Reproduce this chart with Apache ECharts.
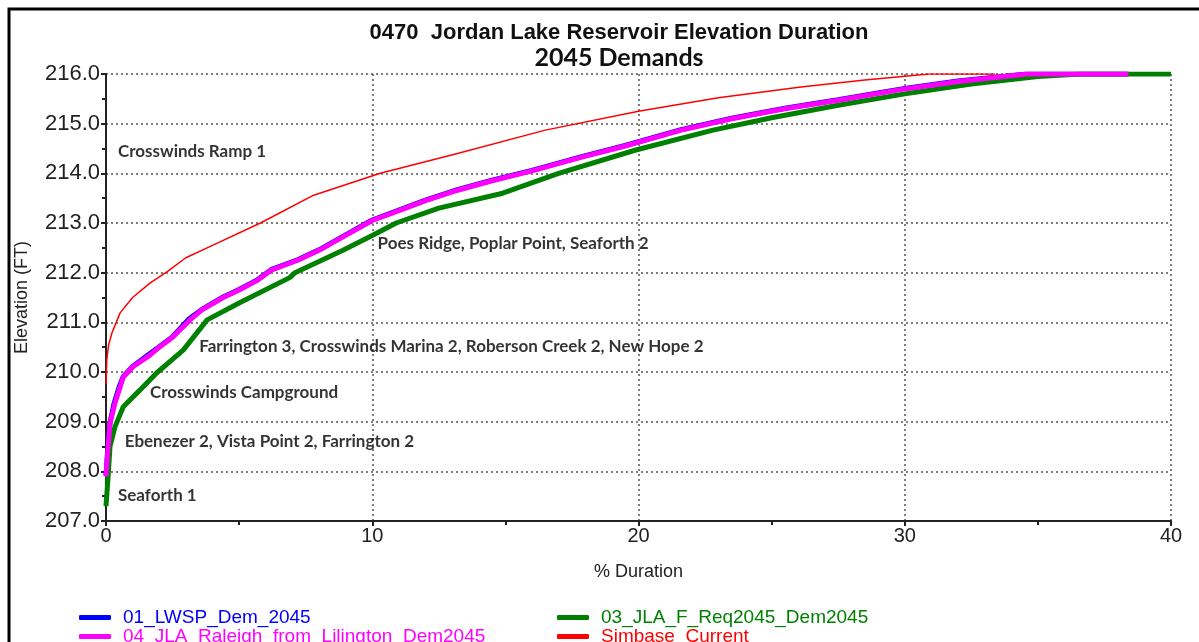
<!DOCTYPE html>
<html>
<head>
    <meta charset="utf-8" />
    <title>Jordan Lake Reservoir Elevation Duration</title>
    <script src="https://cdn.jsdelivr.net/npm/echarts@6/dist/echarts.min.js"></script>
    <style>
        html, body { margin: 0; padding: 0; background: #fff; }
        #chart { width: 1199px; height: 642px; }
    </style>
</head>
<body>
    <div id="chart"></div>
<script>
    // [% duration, elevation ft]
    var lwsp = [[0, 207.92], [0.05, 208.32], [0.15, 208.98], [0.3, 209.36], [0.5, 209.71], [0.65, 209.91], [1.0, 210.11],
        [1.6, 210.35], [2.0, 210.51], [2.5, 210.71], [3.1, 211.06], [3.6, 211.26], [4.4, 211.51], [5.0, 211.66],
        [5.7, 211.86], [6.2, 212.06], [7.2, 212.26], [8.0, 212.46], [9.0, 212.76], [10.0, 213.06], [11.0, 213.26],
        [12.0, 213.46], [13.2, 213.67], [14.5, 213.86], [16.0, 214.06], [17.9, 214.34], [19.5, 214.56], [21.6, 214.88],
        [23.5, 215.11], [25.5, 215.31], [27.5, 215.48], [30.0, 215.71], [32.0, 215.86], [34.6, 216.0], [38.4, 216.0]];
    var jlaFReq = [[0, 207.3], [0.08, 207.9], [0.15, 208.5], [0.34, 208.9], [0.65, 209.3], [1.28, 209.64], [1.9, 209.98],
        [2.9, 210.44], [3.8, 211.05], [5.0, 211.39], [6.9, 211.9], [7.1, 212.0], [8.9, 212.45], [10.0, 212.75],
        [10.9, 213.0], [12.5, 213.3], [14.9, 213.6], [17.0, 214.0], [19.9, 214.47], [22.8, 214.87], [25.0, 215.12],
        [27.5, 215.37], [30.0, 215.6], [32.5, 215.8], [35.0, 215.95], [36.6, 216.0], [40, 216.0]];
    var jlaRaleigh = [[0, 207.9], [0.05, 208.3], [0.15, 208.97], [0.34, 209.38], [0.65, 209.9], [1.0, 210.1], [1.65, 210.34],
        [2.0, 210.5], [2.5, 210.7], [3.16, 211.05], [3.6, 211.25], [4.4, 211.5], [5.0, 211.65], [5.7, 211.85],
        [6.2, 212.05], [7.2, 212.25], [8.0, 212.45], [9.0, 212.75], [10.0, 213.05], [11.0, 213.25], [12.0, 213.45],
        [13.2, 213.66], [14.5, 213.85], [16.0, 214.05], [17.9, 214.33], [19.5, 214.55], [21.6, 214.87], [23.5, 215.1],
        [25.5, 215.3], [27.5, 215.47], [30.0, 215.7], [32.0, 215.85], [34.6, 216.0], [38.4, 216.0]];
    var simbase = [[0, 209.75], [0.03, 210.25], [0.1, 210.55], [0.22, 210.78], [0.53, 211.19], [1.0, 211.5], [1.65, 211.79],
        [2.3, 212.02], [3.0, 212.3], [4.0, 212.55], [5.8, 213.0], [7.8, 213.56], [10.3, 214.0], [13.2, 214.4],
        [16.5, 214.87], [20.0, 215.25], [23.0, 215.52], [26.1, 215.74], [28.5, 215.88], [30.9, 216.0], [33.4, 216.0]];

    var seriesNames = ['01_LWSP_Dem_2045', '03_JLA_F_Req2045_Dem2045', '04_JLA_Raleigh_from_Lilington_Dem2045', 'Simbase_Current'];
    var seriesColors = ['#0000ff', '#008000', '#ff00ff', '#ff0000'];

    // boat ramp notes: [% duration, elevation, text]
    var notes = [
        [0.45, 214.43, 'Crosswinds Ramp 1'],
        [10.2, 212.58, 'Poes Ridge, Poplar Point, Seaforth 2'],
        [3.5, 210.52, 'Farrington 3, Crosswinds Marina 2, Roberson Creek 2, New Hope 2'],
        [1.65, 209.58, 'Crosswinds Campground'],
        [0.7, 208.61, 'Ebenezer 2, Vista Point 2, Farrington 2'],
        [0.45, 207.52, 'Seaforth 1']
    ];

    var arial = 'Arial, "Liberation Sans", sans-serif';
    var myChart = echarts.init(document.getElementById('chart'));

    function legendItem(i) {
        return { name: seriesNames[i], textStyle: { color: seriesColors[i] } };
    }
    var legendBase = {
        orient: 'vertical',
        top: 608,
        height: 80,
        itemGap: 0,
        itemWidth: 32,
        itemHeight: 5,
        icon: 'roundRect',
        padding: 0,
        textStyle: { fontFamily: arial, fontSize: 19, lineHeight: 18, padding: [0, 0, 0, 7] }
    };

    var option = {
        animation: false,
        backgroundColor: '#fff',
        title: {
            text: '0470  Jordan Lake Reservoir Elevation Duration',
            subtext: '2045 Demands',
            left: 614,
            textAlign: 'center',
            top: 17,
            itemGap: 1,
            textStyle: { fontFamily: arial, fontSize: 22, fontWeight: 'bold', color: '#111' },
            subtextStyle: { fontFamily: 'Lato, sans-serif', fontSize: 25, fontWeight: 'bold', color: '#111' }
        },
        legend: [
            Object.assign({}, legendBase, { left: 79, data: [legendItem(0), legendItem(2)] }),
            Object.assign({}, legendBase, { left: 557, data: [legendItem(1), legendItem(3)] })
        ],
        grid: { left: 106, right: 28, top: 74, bottom: 121 },
        xAxis: {
            type: 'value',
            min: 0, max: 40, interval: 10,
            name: '% Duration',
            nameLocation: 'middle',
            nameGap: 42,
            nameTextStyle: { fontFamily: arial, fontSize: 18, color: '#222' },
            axisLine: { lineStyle: { color: '#222', width: 2 } },
            axisTick: { length: 5, lineStyle: { color: '#222', width: 2 } },
            minorTick: { show: true, splitNumber: 2, length: 4, lineStyle: { color: '#222', width: 2 } },
            axisLabel: { fontFamily: arial, fontSize: 20, color: '#222', margin: 5 },
            splitLine: { show: true, lineStyle: { type: [2, 3], color: '#555', width: 1.5 } }
        },
        yAxis: {
            type: 'value',
            min: 207, max: 216, interval: 1,
            name: 'Elevation (FT)',
            nameLocation: 'middle',
            nameGap: 75,
            nameTextStyle: { fontFamily: arial, fontSize: 18, color: '#222' },
            axisLine: { show: true, lineStyle: { color: '#222', width: 2 } },
            axisTick: { show: true, length: 5, lineStyle: { color: '#222', width: 2 } },
            minorTick: { show: true, splitNumber: 2, length: 4, lineStyle: { color: '#222', width: 2 } },
            axisLabel: {
                fontFamily: arial, fontSize: 22, color: '#222', margin: 6,
                formatter: function (v) { return v.toFixed(1); }
            },
            splitLine: { show: true, lineStyle: { type: [2, 3], color: '#555', width: 1.5 } }
        },
        graphic: [{
            type: 'rect',
            shape: { x: 9, y: 9, width: 1400, height: 1000 },
            style: { fill: 'none', stroke: '#000', lineWidth: 3 },
            silent: true
        }],
        series: [
            { name: seriesNames[0], type: 'line', data: lwsp, showSymbol: false, color: seriesColors[0], lineStyle: { width: 5 } },
            { name: seriesNames[1], type: 'line', data: jlaFReq, showSymbol: false, color: seriesColors[1], lineStyle: { width: 5 } },
            { name: seriesNames[2], type: 'line', data: jlaRaleigh, showSymbol: false, color: seriesColors[2], lineStyle: { width: 5 } },
            { name: seriesNames[3], type: 'line', data: simbase, showSymbol: false, color: seriesColors[3], lineStyle: { width: 1.5 } },
            {
                name: 'notes',
                type: 'scatter',
                data: notes,
                symbolSize: 0,
                silent: true,
                label: {
                    show: true,
                    position: 'right',
                    distance: 0,
                    formatter: function (p) { return p.data[2]; },
                    fontFamily: 'Lato, sans-serif',
                    fontWeight: 'bold',
                    fontSize: 17,
                    color: '#000'
                }
            }
        ]
    };

    myChart.setOption(option);
</script>
</body>
</html>
